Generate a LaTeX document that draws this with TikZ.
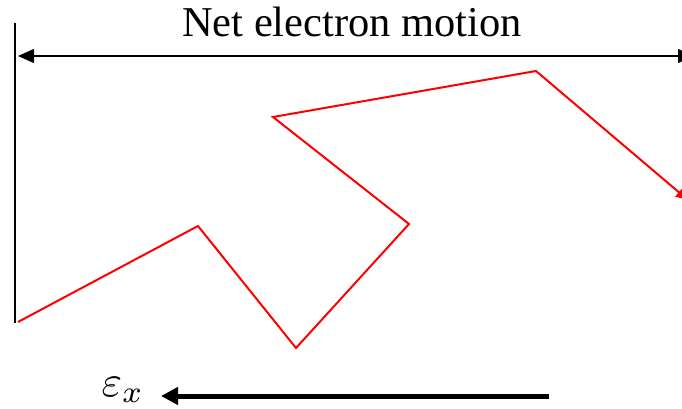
\documentclass[tikz,border=0pt]{standalone}
\usepackage{fontspec}
\setmainfont{Liberation Serif}
\usetikzlibrary{arrows.meta}
\begin{document}
\begin{tikzpicture}[x=1pt,y=-1pt,
  thinarrow/.style={line width=1.3pt,{Triangle[length=16pt,width=14pt]}-{Triangle[length=16pt,width=14pt]}},
  path/.style={red,line width=2pt,line join=miter,-{Triangle[length=12pt,width=11pt]}},
  field/.style={line width=5pt,-{Triangle[length=17pt,width=17pt]}}]
\useasboundingbox (0,0) rectangle (682,409);
\coordinate (vt) at (15,23);
\coordinate (vb) at (15,323);
\draw[line width=1.8pt] (vt) -- (vb);
\coordinate (al) at (18,56);
\coordinate (ar) at (694,56);
\draw[thinarrow] (al) -- (ar);
\node (title) at (352,22) {\fontsize{42.5}{48}\selectfont Net electron motion};
\coordinate (p0) at (18,322);
\coordinate (p1) at (198,226);
\coordinate (p2) at (296,348);
\coordinate (p3) at (409,224);
\coordinate (p4) at (273,117);
\coordinate (p5) at (536,71);
\coordinate (p6) at (688,200);
\draw[path] (p0) -- (p1) -- (p2) -- (p3) -- (p4) -- (p5) -- (p6);
\coordinate (fs) at (549,396);
\coordinate (fe) at (161,396);
\draw[field] (fs) -- (fe);
\node[scale=4.4,inner sep=0pt] (eps) at (123,390) {$\varepsilon_x$};
\end{tikzpicture}
\end{document}
